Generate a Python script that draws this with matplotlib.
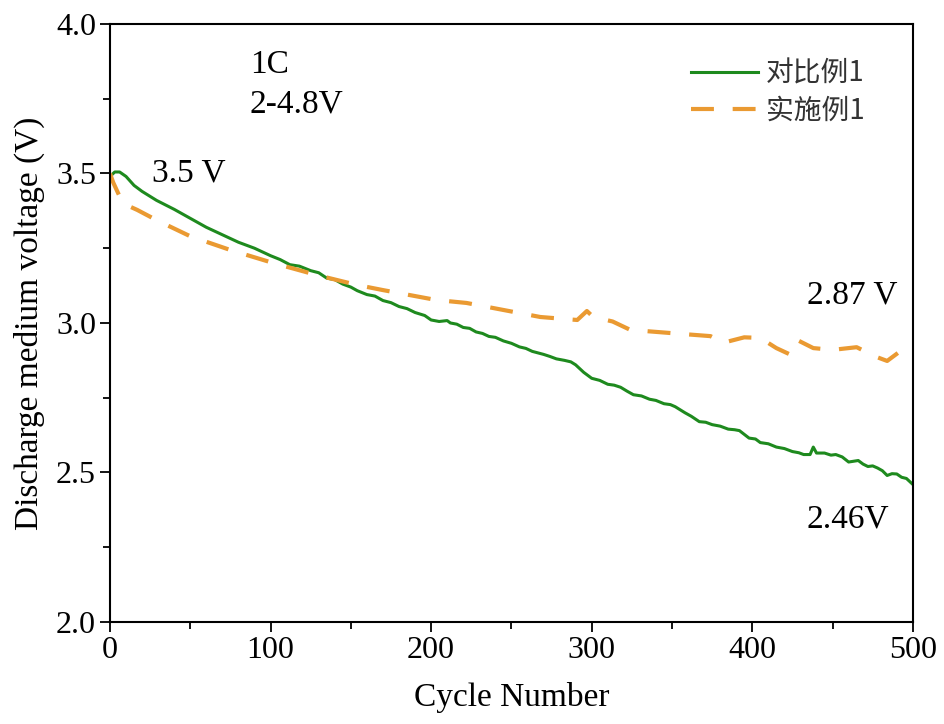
import matplotlib
matplotlib.use("Agg")
import matplotlib.pyplot as plt
from matplotlib.ticker import MultipleLocator

plt.rcParams["font.family"] = ["Liberation Serif", "DejaVu Serif"]
plt.rcParams["axes.unicode_minus"] = False

GREEN = "#1E8A1E"
ORANGE = "#EA9A32"

# ── Data ──────────────────────────────────────────────────────────────────────
cmp_cycles = [0, 3, 6, 10, 15, 20, 29, 40, 50, 60, 70, 80, 90, 100, 106, 112,
              118, 125, 130, 135, 140, 145, 150, 154, 160, 165, 170, 175, 180,
              185, 190, 196, 200, 205, 210, 212, 216, 220, 224, 228, 232, 236,
              240, 245, 250, 255, 259, 263, 270, 274, 278, 283, 287, 290, 295,
              300, 305, 310, 314, 318, 322, 326, 331, 336, 340, 345, 349, 352,
              358, 362, 367, 371, 375, 380, 385, 389, 392, 398, 402, 405, 410,
              415, 420, 425, 429, 432, 436, 438, 440, 445, 449, 452, 456, 460,
              466, 469, 472, 475, 478, 481, 484, 487, 490, 493, 496, 500]
cmp_voltage = [3.49, 3.505, 3.505, 3.49, 3.46, 3.44, 3.41, 3.38, 3.35, 3.32,
               3.295, 3.27, 3.25, 3.225, 3.212, 3.195, 3.19, 3.175, 3.168,
               3.15, 3.145, 3.13, 3.12, 3.108, 3.095, 3.09, 3.075, 3.068,
               3.055, 3.048, 3.035, 3.025, 3.01, 3.005, 3.008, 3.0, 2.996,
               2.985, 2.982, 2.97, 2.965, 2.955, 2.952, 2.94, 2.932, 2.92,
               2.915, 2.905, 2.895, 2.888, 2.88, 2.875, 2.87, 2.86, 2.835,
               2.815, 2.808, 2.795, 2.792, 2.785, 2.772, 2.76, 2.756, 2.745,
               2.741, 2.73, 2.727, 2.72, 2.70, 2.688, 2.67, 2.668, 2.66, 2.655,
               2.645, 2.643, 2.64, 2.615, 2.612, 2.60, 2.596, 2.585, 2.58,
               2.57, 2.566, 2.56, 2.56, 2.585, 2.565, 2.565, 2.558, 2.56,
               2.552, 2.535, 2.54, 2.528, 2.52, 2.522, 2.515, 2.506, 2.49,
               2.496, 2.495, 2.484, 2.48, 2.46]

ex_cycles = [0, 2, 8, 17, 29, 50, 75, 102, 129, 154, 170, 203, 222, 268, 291,
             297, 301, 313, 324, 357, 374, 382, 395, 405, 415, 423, 428, 438,
             450, 465, 477, 484, 492]
ex_voltage = [3.50, 3.47, 3.40, 3.378, 3.344, 3.29, 3.244, 3.20, 3.16, 3.127,
              3.11, 3.077, 3.067, 3.02, 3.01, 3.04, 3.02, 3.005, 2.977, 2.963,
              2.956, 2.934, 2.952, 2.95, 2.916, 2.896, 2.943, 2.916, 2.91,
              2.919, 2.887, 2.873, 2.905]

labels = ["对比例1", "实施例1"]
xticks = [0, 100, 200, 300, 400, 500]
yticks = [2.0, 2.5, 3.0, 3.5, 4.0]

# ── Figure ────────────────────────────────────────────────────────────────────
fig = plt.figure(figsize=(9.44, 7.24), dpi=100, facecolor="white")
ax = fig.add_axes([0.1165, 0.1409, 0.8505, 0.826])

ax.plot(cmp_cycles, cmp_voltage, color=GREEN, lw=2.2, label=labels[0])
ax.plot(ex_cycles, ex_voltage, color=ORANGE, lw=3.0, dashes=(5.5, 4.5),
        label=labels[1])

ax.set_xlim(0, 500)
ax.set_ylim(2.0, 4.0)
ax.set_xticks(xticks)
ax.set_yticks(yticks)
ax.xaxis.set_minor_locator(MultipleLocator(50))
ax.yaxis.set_minor_locator(MultipleLocator(0.25))
ax.set_yticklabels([f"{v:.1f}" for v in yticks])

ax.tick_params(which="major", direction="out", length=7, width=1.3,
               labelsize=23, pad=3, top=False, right=False)
ax.tick_params(which="minor", direction="out", length=5, width=1.3,
               top=False, right=False)
for sp in ax.spines.values():
    sp.set_linewidth(1.5)

ax.set_xlabel("Cycle Number", fontsize=24, labelpad=12)
ax.set_ylabel("Discharge medium voltage (V)", fontsize=24, labelpad=8)

# annotations
ax.text(87, 3.865, "1C", fontsize=24, va="center", ha="left")
ax.text(87, 3.73, "2-4.8V", fontsize=24, va="center", ha="left")
ax.text(26, 3.50, "3.5 V", fontsize=24, va="center", ha="left")
ax.text(434, 3.094, "2.87 V", fontsize=24, va="center", ha="left")
ax.text(434, 2.345, "2.46V", fontsize=24, va="center", ha="left")

leg = ax.legend(loc="upper left", bbox_to_anchor=(0.71, 0.96), frameon=False,
                prop={"family": ["Noto Sans CJK SC", "DejaVu Sans"], "size": 20},
                handlelength=2.4, handletextpad=0.3, labelspacing=0.25,
                borderaxespad=0)
for t in leg.get_texts():
    t.set_color("#333333")

fig.savefig("out.png", dpi=100, facecolor="white")
